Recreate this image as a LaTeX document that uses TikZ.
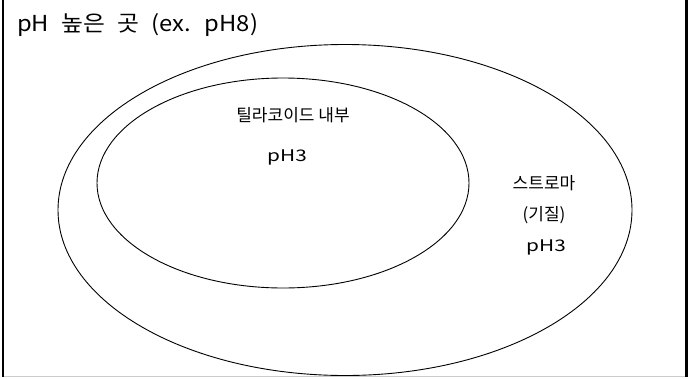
\documentclass[tikz,border=0pt]{standalone}
\usepackage{fontspec}
\usetikzlibrary{shapes.geometric}
\setmainfont{Noto Sans CJK KR}
\newfontfamily\titlefont{Noto Sans CJK KR}[WordSpace=2.3, FakeStretch=1.08]
\newfontfamily\phfont{Noto Sans CJK KR}[FakeStretch=1.3]
\begin{document}
\begin{tikzpicture}[x=1pt,y=-1pt,
  lbl/.style={inner sep=0pt, anchor=center, font=\fontsize{17}{18}\selectfont},
  phlbl/.style={inner sep=0pt, anchor=center, font=\phfont\fontsize{16}{18}\selectfont},
  ell/.style={draw=black, line width=0.9pt},
  side/.style={draw=black, line width=2.6pt}]
\useasboundingbox (0,0) rectangle (690,378);
\fill[white] (0,0) rectangle (690,378);
\coordinate (tl) at (3,0);
\coordinate (bl) at (3,377);
\coordinate (tr) at (686.5,0);
\coordinate (br) at (686.5,377);
\draw[draw=black!20, line width=1.2pt] (3,376.5) -- (686.5,376.5);
\draw[side] (tl) -- (bl);
\draw[side] (tr) -- (br);
\node[ell, ellipse, minimum width=574, minimum height=331, inner sep=0pt] (outer) at (345,210) {};
\node[ell, ellipse, minimum width=372, minimum height=210, inner sep=0pt] (inner) at (283,183) {};
\node[lbl, anchor=west, font=\titlefont\fontsize{22}{24}\selectfont] (title) at (17,25) {pH 높은 곳 (ex. pH8)};
\node[lbl] (thy) at (293,115) {틸라코이드 내부};
\node[phlbl] (thyph) at (287,157) {pH3};
\node[lbl] (str) at (544,183) {스트로마};
\node[lbl] (strsub) at (544,215) {(기질)};
\node[phlbl] (strph) at (546,247) {pH3};
\end{tikzpicture}
\end{document}
